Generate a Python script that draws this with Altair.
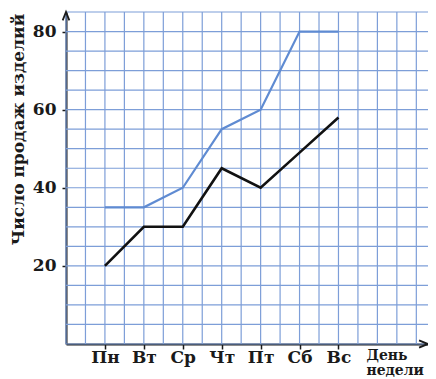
import altair as alt
import pandas as pd

days = ["Пн", "Вт", "Ср", "Чт", "Пт", "Сб", "Вс"]
blue_values = [35, 35, 40, 55, 60, 80, 80]
black_values = [20, 30, 30, 45, 40, 49, 58]

df = pd.DataFrame({
    "pos": list(range(1, len(days) + 1)),
    "day": days,
    "blue": blue_values,
    "black": black_values,
})

FONT = "DejaVu Serif"
GRID = "#7d9ed8"
X_MAX = 9.3
Y_MAX = 85

x_grid_values = [i * 0.5 for i in range(0, 19)]
y_grid_values = list(range(0, Y_MAX + 1, 5))

day_array = "[" + ",".join("'" + d + "'" for d in days) + "]"
x_label_expr = (
    f"datum.value % 1 === 0 && datum.value >= 1 && datum.value <= {len(days)} "
    f"? {day_array}[datum.value - 1] : ''"
)
y_label_expr = "datum.value % 20 === 0 && datum.value > 0 ? datum.value : ''"

x_scale = alt.Scale(domain=[0, X_MAX], nice=False, zero=False)
y_scale = alt.Scale(domain=[0, Y_MAX], nice=False, zero=False)

x_axis = alt.Axis(
    values=x_grid_values, tickCount=len(x_grid_values),
    labelExpr=x_label_expr,
    grid=False,
    domainColor="#1a1a1a", domainWidth=2,
    tickColor="#1a1a1a", tickWidth=1.5, tickSize=5,
    tickOpacity={"condition": {"test": f"datum.value % 1 === 0 && datum.value >= 1 && datum.value <= {len(days)}", "value": 1}, "value": 0},
    labelFont=FONT, labelFontSize=17, labelFontWeight="bold", labelColor="#1a1a1a",
    labelBaseline="alphabetic", labelPadding=13,
    labelOverlap=False, labelFlush=False, labelBound=False,
    title=["День", "недели"], titleFont="DejaVu Serif Condensed, Liberation Serif",
    titleFontSize=15.5, titleFontWeight="bold", titleColor="#1a1a1a",
    titleAlign="left", titleAnchor="start", titleBaseline="alphabetic",
    titleX=300, titleY=15, titleLineHeight=15.5,
)

y_axis = alt.Axis(
    values=y_grid_values, tickCount=len(y_grid_values),
    labelExpr=y_label_expr,
    grid=False,
    domainColor="#1a1a1a", domainWidth=2,
    tickColor="#1a1a1a", tickWidth=1.5, tickSize=4,
    tickOpacity={"condition": {"test": "datum.value % 20 === 0 && datum.value > 0", "value": 1}, "value": 0},
    labelFont=FONT, labelFontSize=17, labelFontWeight="bold", labelColor="#1a1a1a", labelPadding=6,
    labelOverlap=False, labelFlush=False, labelBound=False,
    title="Число продаж изделий", titleFont=FONT, titleFontSize=17,
    titleFontWeight="bold", titleColor="#1a1a1a",
    titleAngle=270, titleAlign="center", titleBaseline="alphabetic",
    titleX=-43, titleY=117,
)

vgrid = alt.Chart(pd.DataFrame({"g": x_grid_values})).mark_rule(
    color=GRID, strokeWidth=1.2
).encode(x=alt.X("g:Q", scale=x_scale, axis=x_axis))
hgrid = alt.Chart(pd.DataFrame({"g": y_grid_values})).mark_rule(
    color=GRID, strokeWidth=1.2
).encode(y=alt.Y("g:Q", scale=y_scale, axis=y_axis))

base = alt.Chart(df)
blue_line = base.mark_line(color="#5f8bd2", strokeWidth=2.2).encode(
    x=alt.X("pos:Q", scale=x_scale),
    y=alt.Y("blue:Q", scale=y_scale),
)
black_line = base.mark_line(color="#111111", strokeWidth=2.6).encode(
    x=alt.X("pos:Q", scale=x_scale),
    y=alt.Y("black:Q", scale=y_scale),
)

arrow_df = pd.DataFrame({"ax": [X_MAX], "ay": [0], "bx": [0], "by": [Y_MAX]})
x_arrow = alt.Chart(arrow_df).mark_point(
    shape="M-2,-0.8L0,0L-2,0.8", filled=False, stroke="#1a1a1a", strokeWidth=2,
    opacity=1, size=80, clip=False,
).encode(x=alt.X("ax:Q", scale=x_scale), y=alt.Y("ay:Q", scale=y_scale))
y_arrow = alt.Chart(arrow_df).mark_point(
    shape="M-0.8,2L0,0L0.8,2", filled=False, stroke="#1a1a1a", strokeWidth=1.8,
    opacity=1, size=70, clip=False,
).encode(x=alt.X("bx:Q", scale=x_scale), y=alt.Y("by:Q", scale=y_scale))

chart = alt.layer(vgrid, hgrid, blue_line, black_line, x_arrow, y_arrow).properties(
    width=362, height=332,
    autosize=alt.AutoSizeParams(type="none"),
    padding={"left": 58, "top": 4, "right": 0, "bottom": 34},
    background="#ffffff",
).configure_view(stroke=None)

chart.save("out.html", embed_options={"renderer": "svg", "actions": False})
